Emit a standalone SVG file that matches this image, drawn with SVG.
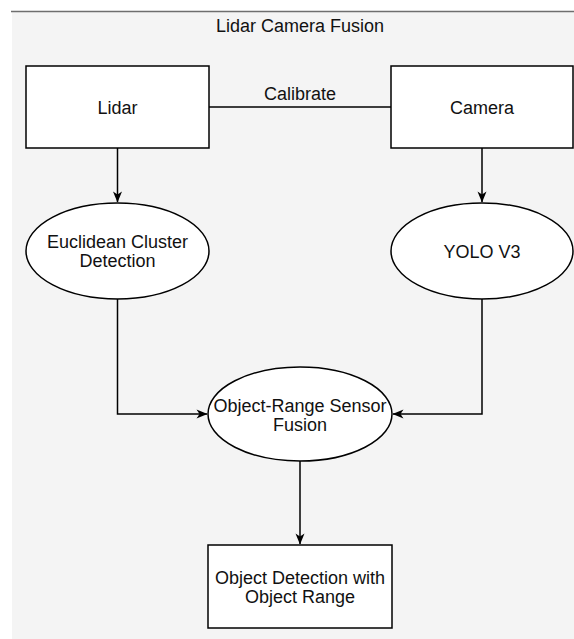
<svg xmlns="http://www.w3.org/2000/svg" width="574" height="639" viewBox="0 0 574 639">
<style>
.node{fill:#ffffff;stroke:#000000;stroke-width:1.5}
.edge{fill:none;stroke:#000000;stroke-width:1.5}
text{font-family:"Liberation Sans",Arial,Helvetica,sans-serif;font-size:18px;fill:#111111;text-anchor:middle}
</style>
<defs>
<marker id="arr" viewBox="0 0 11 10" refX="10.5" refY="5" markerWidth="11" markerHeight="10" markerUnits="userSpaceOnUse" orient="auto" overflow="visible">
<path d="M0,0.5 L11,5 L0,9.5 L3,5 z" fill="#000000"/>
</marker>
</defs>
<rect x="0" y="0" width="574" height="639" fill="#ffffff"/>
<rect x="12" y="11" width="562" height="628" fill="#f4f4f4"/>
<line x1="11" y1="11.5" x2="574" y2="11.5" stroke="#6e6e6e" stroke-width="1.5"/>
<text id="title" x="300" y="31.5">Lidar Camera Fusion</text>
<g id="connectors">
<line class="edge" x1="209" y1="107" x2="391" y2="107"/>
<text x="300" y="100">Calibrate</text>
<path class="edge" d="M117.5,148 L117.5,202" marker-end="url(#arr)"/>
<path class="edge" d="M482,148 L482,202" marker-end="url(#arr)"/>
<path class="edge" d="M117.5,299 L117.5,414 L207,414" marker-end="url(#arr)"/>
<path class="edge" d="M482,299 L482,414 L393,414" marker-end="url(#arr)"/>
<path class="edge" d="M300,461 L300,544" marker-end="url(#arr)"/>
</g>
<g id="lidar">
<rect class="node" x="26" y="66" width="183" height="82"/>
<text x="117.5" y="114">Lidar</text>
</g>
<g id="camera">
<rect class="node" x="391" y="66" width="182" height="82"/>
<text x="482" y="114">Camera</text>
</g>
<g id="euclidean">
<ellipse class="node" cx="117.5" cy="251" rx="91.5" ry="48"/>
<text x="117.5" y="248">Euclidean Cluster</text>
<text x="117.5" y="267">Detection</text>
</g>
<g id="yolo">
<ellipse class="node" cx="482" cy="251" rx="91" ry="48"/>
<text x="482" y="258">YOLO V3</text>
</g>
<g id="fusion">
<ellipse class="node" cx="300" cy="414" rx="92" ry="47"/>
<text x="300" y="412">Object-Range Sensor</text>
<text x="300" y="431">Fusion</text>
</g>
<g id="output">
<rect class="node" x="208" y="545" width="184" height="83"/>
<text x="300" y="584">Object Detection with</text>
<text x="300" y="603">Object Range</text>
</g>
</svg>
